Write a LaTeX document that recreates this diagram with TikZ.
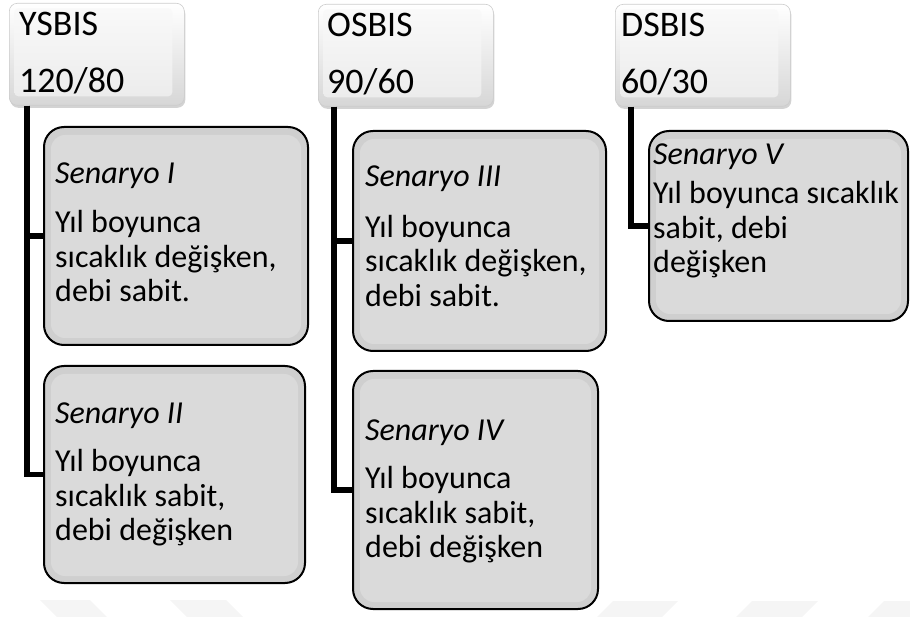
\documentclass[tikz,border=0pt]{standalone}
\usepackage{fontspec}
\setmainfont{Carlito}
\usetikzlibrary{shadows}
\tikzset{
  parentbox/.style={rectangle, rounded corners=8pt, minimum width=175pt, minimum height=102pt,
    anchor=north west, inner sep=0pt, top color=white, bottom color=gray!32, draw=gray!40, line width=0.6pt,
    drop shadow={opacity=0.35, shadow xshift=1pt, shadow yshift=-2.5pt},
    path picture={\shade[top color=gray!4, bottom color=gray!16, rounded corners=4pt]
      ([shift={(5pt,-5pt)}]path picture bounding box.north west) rectangle
      ([shift={(-12pt,9pt)}]path picture bounding box.south east);}},
  childbox/.style={rectangle, rounded corners=20pt, anchor=north west, inner sep=0pt,
    draw=black, line width=2pt, fill=gray!38,
    path picture={\fill[gray!29, rounded corners=14pt]
      ([shift={(7pt,-8pt)}]path picture bounding box.north west) rectangle
      ([shift={(-7pt,7pt)}]path picture bounding box.south east);}},
  conn/.style={line width=5.5pt, black},
  ptext/.style={anchor=base west, inner sep=0pt, font=\fontsize{36}{57}\selectfont},
  ctext/.style={anchor=base west, inner sep=0pt, font=\fontsize{32}{34.5}\selectfont},
  wm/.style={fill=gray!8}
}
\begin{document}
\begin{tikzpicture}[x=1pt, y=-1pt]
\useasboundingbox (0,0) rectangle (910,617);
% watermark shapes
\fill[wm] (40,600) -- (90,600) -- (107,617) -- (57,617) -- cycle;
\fill[wm] (170,600) -- (226,600) -- (243,617) -- (187,617) -- cycle;
\fill[wm] (613,601) -- (678,601) -- (662,617) -- (597,617) -- cycle;
\fill[wm] (752,601) -- (818,601) -- (802,617) -- (736,617) -- cycle;
\fill[wm] (884,601) -- (910,601) -- (910,617) -- (868,617) -- cycle;

% parent boxes
\node[parentbox] (ys) at (9,3) {};
\node[parentbox] (os) at (318,4) {};
\node[parentbox] (ds) at (615,4) {};

% child boxes
\node[childbox, minimum width=264pt, minimum height=218pt] (c1) at (43,126) {};
\node[childbox, minimum width=261pt, minimum height=217pt] (c2) at (43,365) {};
\node[childbox, minimum width=253pt, minimum height=220pt] (c3) at (352,130) {};
\node[childbox, minimum width=245pt, minimum height=238pt] (c4) at (352,370) {};
\node[childbox, minimum width=259pt, minimum height=190pt] (c5) at (648,130) {};

% connectors
\draw[conn] ([xshift=18pt]ys.south west) |- (c1.west);
\draw[conn] ([xshift=18pt]ys.south west) |- (c2.west);
\draw[conn] ([xshift=16pt]os.south west) |- (c3.west);
\draw[conn] ([xshift=16pt]os.south west) |- (c4.west);
\draw[conn] ([xshift=16pt]ds.south west) |- (c5.west);

% parent texts
\node[ptext] (ysT) at (19,36) {\parbox[t]{160pt}{YSBIS\\120/80}};
\node[ptext] (osT) at (327,37) {\parbox[t]{160pt}{OSBIS\\90/60}};
\node[ptext] (dsT) at (621,37) {\parbox[t]{160pt}{DSBIS\\60/30}};

% child texts
\node[ctext] (t1) at (55,184) {\parbox[t]{250pt}{\raggedright{\itshape Senaryo I}\\[14.5pt]Yıl boyunca\\sıcaklık değişken,\\debi sabit.}};
\node[ctext] (t2) at (55,423) {\parbox[t]{250pt}{\raggedright{\itshape Senaryo II}\\[14pt]Yıl boyunca\\sıcaklık sabit,\\debi değişken}};
\node[ctext] (t3) at (365,187) {\parbox[t]{240pt}{\raggedright{\itshape Senaryo III}\\[16pt]Yıl boyunca\\sıcaklık değişken,\\debi sabit.}};
\node[ctext] (t4) at (365,440) {\parbox[t]{240pt}{\raggedright{\itshape Senaryo IV}\\[14pt]Yıl boyunca\\sıcaklık sabit,\\debi değişken}};
\node[ctext] (t5) at (653,165) {\parbox[t]{255pt}{\raggedright{\itshape Senaryo V}\\[4.5pt]Yıl boyunca sıcaklık\\sabit, debi\\değişken}};
\end{tikzpicture}
\end{document}
